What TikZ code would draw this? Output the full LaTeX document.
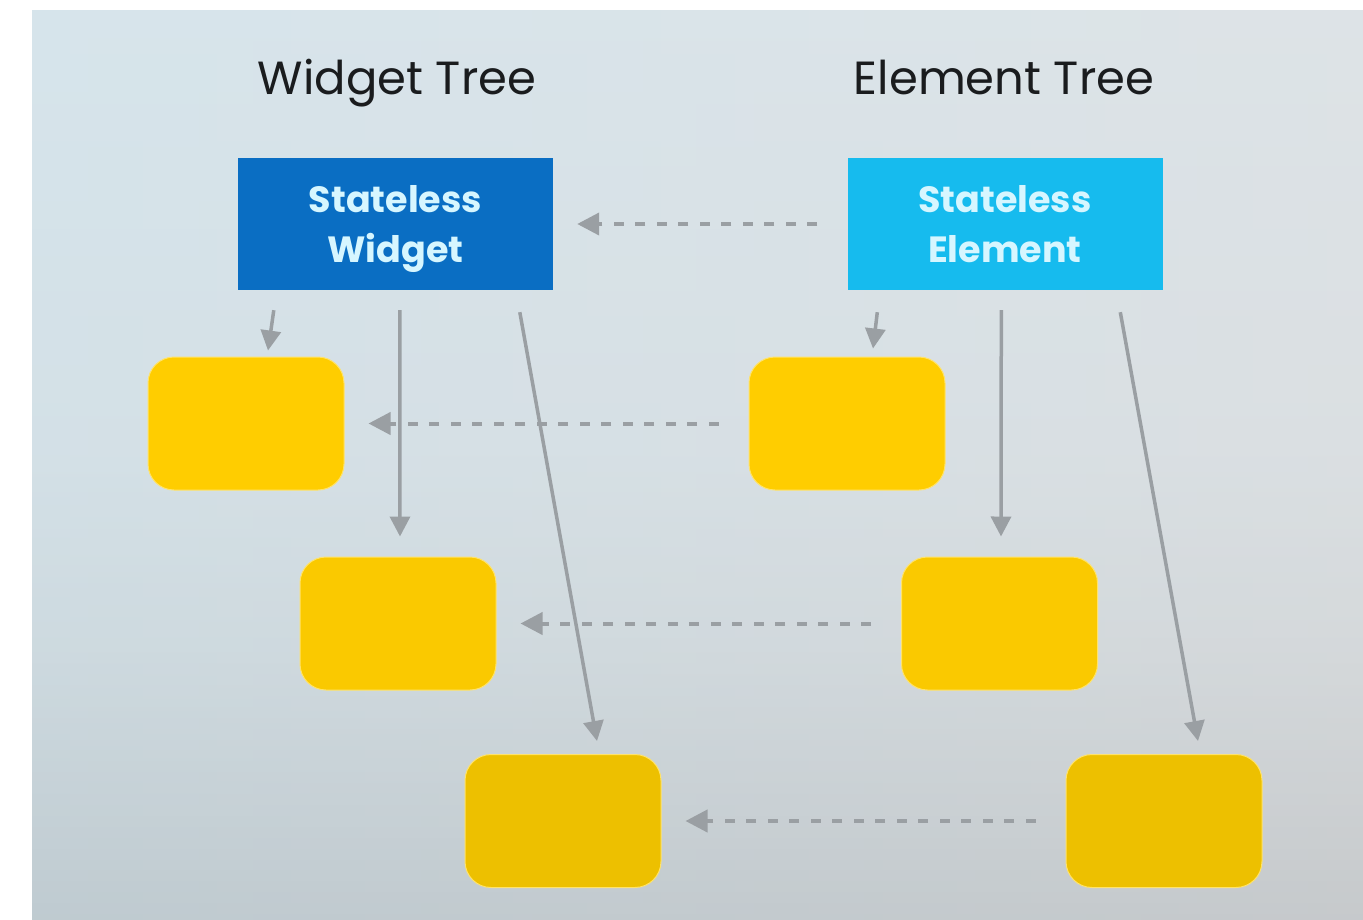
\documentclass[tikz,border=0pt]{standalone}
\usepackage{fontspec}
\setmainfont{Poppins}
\usetikzlibrary{arrows.meta,calc}
\definecolor{bgleft}{HTML}{D0E6F0}
\definecolor{bgright}{HTML}{E2E3E4}
\definecolor{wblue}{HTML}{0A6EC3}
\definecolor{ecyan}{HTML}{16BBEE}
\definecolor{boxtext}{HTML}{D6F6FF}
\definecolor{ylw1}{HTML}{FFCD00}
\definecolor{ylw2}{HTML}{FAC900}
\definecolor{ylw3}{HTML}{EDC000}
\definecolor{ylwedge}{HTML}{FFE36A}
\definecolor{arrgray}{HTML}{9A9FA3}
\definecolor{titletext}{HTML}{1A1C1E}
\pgfdeclareverticalshading{bgshade}{100bp}{%
  color(0bp)=(rgb,255:red,180;green,185;blue,188);
  color(25bp)=(rgb,255:red,180;green,185;blue,188);
  color(31bp)=(rgb,255:red,190;green,195;blue,198);
  color(40bp)=(rgb,255:red,204;green,210;blue,213);
  color(51bp)=(rgb,255:red,214;green,221;blue,225);
  color(75bp)=(rgb,255:red,219;green,228;blue,233);
  color(100bp)=(rgb,255:red,219;green,228;blue,233)}
\tikzset{
  title/.style={font=\fontsize{46.5}{50}\selectfont, text=titletext, inner sep=0pt, anchor=base},
  statebox/.style={minimum width=315pt, minimum height=132pt, inner sep=0pt},
  boxlabel/.style={inner sep=0pt, align=center, text=boxtext,
    font=\fontsize{36.5}{50}\selectfont\bfseries},
  ybox/.style={minimum width=196pt, minimum height=133pt, rounded corners=26pt,
    draw=ylwedge, line width=1pt, inner sep=0pt},
  solidarr/.style={draw=arrgray, line width=3.5pt,
    -{Triangle[length=20pt,width=20pt]}},
  dasharr/.style={draw=arrgray, line width=4pt, dash pattern=on 10pt off 11.5pt,
    -{Triangle[length=22pt,width=22pt]}, shorten <=30pt, shorten >=24pt}
}
\begin{document}
\begin{tikzpicture}[x=1pt,y=-1pt]
\useasboundingbox (0,0) rectangle (1363,919);
\fill[white] (0,0) rectangle (1363,919);
\shade[shading=bgshade] (32,10) rectangle (1363,919);
\shade[left color=bgleft, right color=bgright, opacity=0.4] (32,10) rectangle (1363,919);

% titles
\node[title] (wt) at (397,94) {Widget Tree};
\node[title] (et) at (1004,94) {Element Tree};

% top boxes
\node[statebox, fill=wblue] (sw) at (395.5,224) {};
\node[boxlabel] (swt) at ($(sw.center)+(0,5)$) {Stateless\\Widget};
\node[statebox, fill=ecyan] (se) at (1005,224) {};
\node[boxlabel] (set) at ($(se.center)+(0,5)$) {Stateless\\Element\vphantom{g}};

% yellow boxes
\node[ybox, fill=ylw1] (w1) at (246,423.5) {};
\node[ybox, fill=ylw2] (w2) at (398,623.5) {};
\node[ybox, fill=ylw3] (w3) at (563,821) {};
\node[ybox, fill=ylw1] (e1) at (847,423.5) {};
\node[ybox, fill=ylw2] (e2) at (999.5,623.5) {};
\node[ybox, fill=ylw3] (e3) at (1164,821) {};

% solid arrows (widget tree)
\draw[solidarr] ($(sw.south west)+(36,20)$) -- ($(w1.north)+(22,-6)$);
\draw[solidarr] ($(sw.south west)+(162,20)$) -- ($(w2.north)+(2,-20)$);
\draw[solidarr] ($(sw.south west)+(282,22)$) -- ($(w3.north)+(34,-13)$);
% solid arrows (element tree)
\draw[solidarr] ($(se.south west)+(30,22)$) -- ($(e1.north)+(26,-8)$);
\draw[solidarr] ($(se.south west)+(154,20)$) -- ($(e2.north)+(1.5,-20)$);
\draw[solidarr] ($(se.south west)+(273,22)$) -- ($(e3.north)+(34,-13)$);

% dashed arrows
\draw[dasharr] (se.west) -- (sw.east);
\draw[dasharr] (e1.west) -- (w1.east);
\draw[dasharr] (e2.west) -- (w2.east);
\draw[dasharr] (e3.west) -- (w3.east);
\end{tikzpicture}
\end{document}
